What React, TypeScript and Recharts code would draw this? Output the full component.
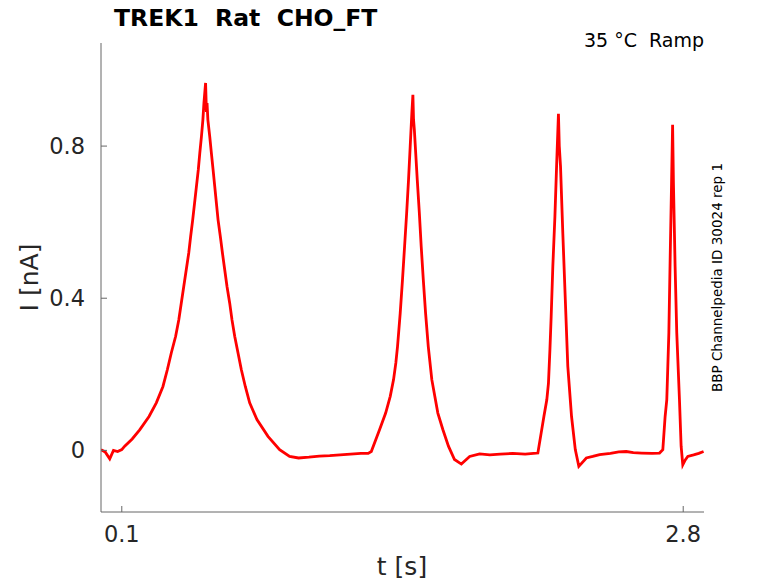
import { type JSX } from "react";
import { LineChart, Line, XAxis, YAxis } from "recharts";

// current trace (time in s, current in nA)
const times: number[] = [
  0.0, 0.02, 0.042, 0.06, 0.08, 0.1, 0.114, 0.15, 0.186, 0.231, 0.266, 0.298, 0.319, 0.338, 0.359, 0.374, 0.386, 0.398,
  0.41, 0.422, 0.431, 0.441, 0.45, 0.459, 0.468, 0.475, 0.483, 0.49, 0.495, 0.503, 0.507, 0.51, 0.514, 0.523, 0.531,
  0.539, 0.547, 0.555, 0.563, 0.574, 0.584, 0.595, 0.606, 0.619, 0.63, 0.643, 0.659, 0.675, 0.694, 0.715, 0.75, 0.803,
  0.859, 0.907, 0.95, 1.0, 1.05, 1.1, 1.15, 1.2, 1.25, 1.285,
  1.3, 1.34, 1.369, 1.391, 1.407, 1.418, 1.426, 1.439, 1.45, 1.46, 1.47, 1.479, 1.487, 1.495, 1.5, 1.503, 1.507, 1.521,
  1.531, 1.54, 1.55, 1.561, 1.574, 1.591, 1.62, 1.644, 1.671, 1.7, 1.733, 1.773, 1.821, 1.87, 1.92, 1.98, 2.04, 2.08,
  2.101, 2.117, 2.13, 2.144, 2.152, 2.159, 2.165, 2.173, 2.183, 2.191, 2.2, 2.204, 2.21, 2.221, 2.233, 2.245, 2.263,
  2.281, 2.298, 2.334, 2.365, 2.398, 2.45, 2.49, 2.526, 2.56, 2.6, 2.65, 2.686,
  2.702, 2.713, 2.721, 2.731, 2.738, 2.744, 2.749, 2.753, 2.761, 2.769, 2.782, 2.79, 2.798, 2.81, 2.822, 2.85, 2.875,
  2.898,
];

const current: number[] = [
  0.002, -0.004, -0.022, 0.0, -0.003, 0.002, 0.011, 0.03, 0.054, 0.089, 0.125, 0.168, 0.212, 0.256, 0.3, 0.343, 0.387,
  0.431, 0.475, 0.519, 0.562, 0.606, 0.65, 0.694, 0.738, 0.781, 0.825, 0.869, 0.913, 0.966, 0.89, 0.913, 0.869, 0.825,
  0.781, 0.738, 0.694, 0.65, 0.606, 0.562, 0.519, 0.475, 0.431, 0.387, 0.343, 0.3, 0.256, 0.212, 0.168, 0.125, 0.081,
  0.037, 0.002, -0.016, -0.02, -0.018, -0.015, -0.014, -0.012, -0.01, -0.008, -0.008,
  -0.003, 0.055, 0.098, 0.142, 0.186, 0.23, 0.273, 0.361, 0.449, 0.536, 0.624, 0.711, 0.799, 0.887, 0.935, 0.87, 0.843,
  0.711, 0.624, 0.536, 0.449, 0.361, 0.273, 0.186, 0.098, 0.055, 0.011, -0.024, -0.036, -0.016, -0.009, -0.012, -0.01,
  -0.008, -0.01, -0.008,
  -0.007, 0.046, 0.089, 0.133, 0.177, 0.265, 0.352, 0.484, 0.615, 0.746, 0.885, 0.8, 0.746, 0.571, 0.396, 0.221, 0.089,
  0.002, -0.042, -0.02, -0.016, -0.011, -0.008, -0.004, -0.003, -0.006, -0.007, -0.008, -0.007,
  0.002, 0.089, 0.133, 0.309, 0.527, 0.703, 0.856, 0.703, 0.484, 0.309, 0.133, 0.011, -0.038, -0.025, -0.016, -0.012,
  -0.008, -0.003,
];

const xTicks = [0.1, 2.8];
const yTicks = [0, 0.4, 0.8];

const AXIS_COLOR = "#666666";
const TEXT_COLOR = "#262626";
const FONT = "'DejaVu Sans', sans-serif";

const data = times.map((t, i) => ({ t, i: current[i] }));

const XTick = ({ x, y, payload }: any) => (
  <g>
    <line x1={x} y1={y} x2={x} y2={y - 6} stroke={AXIS_COLOR} strokeWidth={1} />
    <text x={x} y={y + 29.5} textAnchor="middle" fontSize={22.5} fill={TEXT_COLOR} fontFamily={FONT}>
      {String(payload.value)}
    </text>
  </g>
);

const YTick = ({ x, y, payload }: any) => (
  <g>
    <line x1={x} y1={y} x2={x + 6} y2={y} stroke={AXIS_COLOR} strokeWidth={1} />
    <text x={x - 16} y={y + 8} textAnchor="end" fontSize={22.5} fill={TEXT_COLOR} fontFamily={FONT}>
      {String(payload.value)}
    </text>
  </g>
);

export default function App(): JSX.Element {
  return (
    <div style={{ position: "absolute", left: 0, top: 0, width: 778, height: 583, background: "#fff" }}>
      <LineChart width={778} height={583} data={data} margin={{ top: 43, right: 74, left: 0, bottom: 0 }}>
        <XAxis
          dataKey="t"
          type="number"
          domain={[0, 2.9]}
          ticks={xTicks}
          tick={<XTick />}
          tickLine={false}
          tickSize={0}
          tickMargin={0}
          height={71}
          axisLine={{ stroke: AXIS_COLOR, strokeWidth: 1 }}
          allowDataOverflow
        />
        <YAxis
          type="number"
          domain={[-0.162, 1.071]}
          ticks={yTicks}
          tick={<YTick />}
          tickLine={false}
          tickSize={0}
          tickMargin={0}
          width={101}
          axisLine={{ stroke: AXIS_COLOR, strokeWidth: 1 }}
          allowDataOverflow
        />
        <Line dataKey="i" type="linear" stroke="#ff0000" strokeWidth={2.8} dot={false} isAnimationActive={false} />
        <text x={114} y={26} fontSize={23.5} fontWeight="bold" fill="#000" fontFamily={FONT} style={{ whiteSpace: "pre" }}>
          TREK1  Rat  CHO_FT
        </text>
        <text x={704} y={47} textAnchor="end" fontSize={19} fill="#000" fontFamily={FONT} style={{ whiteSpace: "pre" }}>
          35 °C  Ramp
        </text>
        <text x={402} y={575} textAnchor="middle" fontSize={25} fill={TEXT_COLOR} fontFamily={FONT}>
          t [s]
        </text>
        <text x={38} y={277.5} textAnchor="middle" fontSize={25} fill={TEXT_COLOR} fontFamily={FONT} transform="rotate(-90 38 277.5)">
          I [nA]
        </text>
        <text x={722} y={277.5} textAnchor="middle" fontSize={13.5} fill="#000" fontFamily={FONT} transform="rotate(-90 722 277.5)">
          BBP Channelpedia ID 30024 rep 1
        </text>
      </LineChart>
    </div>
  );
}
